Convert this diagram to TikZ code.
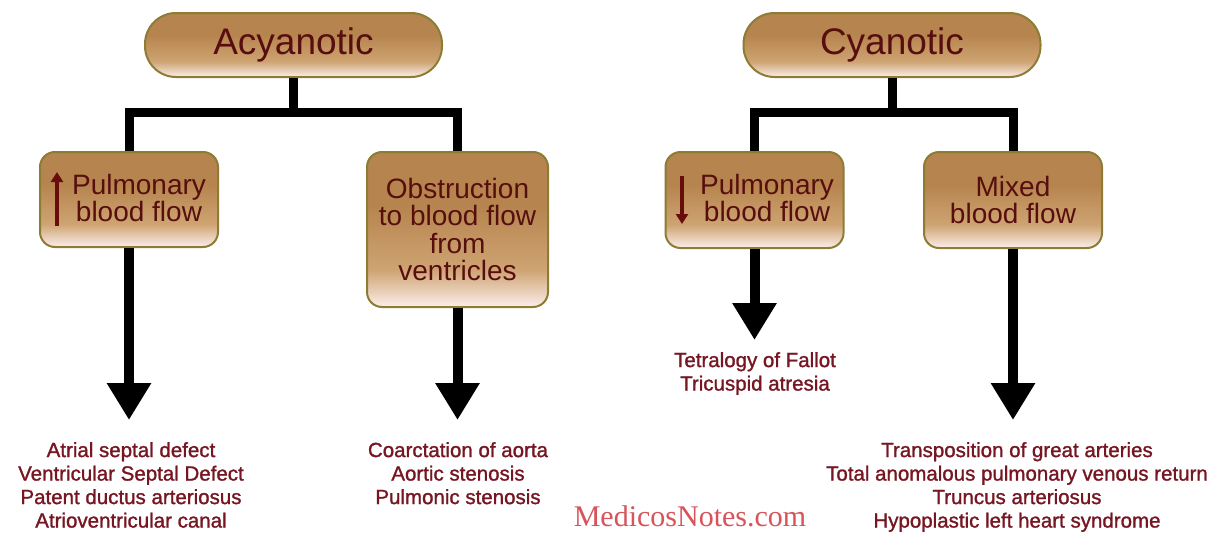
\documentclass[tikz,border=0pt]{standalone}
\usepackage{fontspec}
\setmainfont{Liberation Sans}
\newfontfamily\wmfont{Liberation Serif}
\newfontfamily\listfont{Liberation Sans}[FakeBold=1.2]
\usetikzlibrary{arrows.meta}
\definecolor{boxtop}{RGB}{182,132,78}
\definecolor{boxmid}{RGB}{206,164,114}
\definecolor{boxbot}{RGB}{252,238,236}
\definecolor{boxborder}{RGB}{140,124,52}
\definecolor{boxtext}{RGB}{88,14,14}
\definecolor{glyphred}{RGB}{105,12,12}
\definecolor{listred}{RGB}{118,22,34}
\definecolor{wmred}{RGB}{214,84,90}
\pgfdeclareverticalshading{boxshade}{100bp}{color(0bp)=(boxbot); color(25bp)=(boxbot); color(37bp)=(boxmid); color(58bp)=(boxtop); color(75bp)=(boxtop); color(100bp)=(boxtop)}
\tikzset{
  topbox/.style={draw=boxborder, line width=2pt, shading=boxshade, rounded corners=31pt,
    minimum width=297pt, minimum height=64pt, inner sep=0pt,
    font=\fontsize{37}{37}\selectfont, text=boxtext},
  subbox/.style={draw=boxborder, line width=2pt, shading=boxshade, rounded corners=15pt,
    minimum width=178pt, inner sep=0pt, align=center,
    font=\fontsize{28}{27.5}\selectfont, text=boxtext},
  boxtxt/.style={inner sep=0pt, align=center, font=\fontsize{28}{27.5}\selectfont, text=boxtext},
  conn/.style={line width=9pt, black},
  bigarrow/.style={line width=10pt, black, -{Triangle[width=42pt,length=37pt]}},
  glypharrow/.style={line width=4.5pt, glyphred, -{Triangle[width=12pt,length=10pt]}},
  listtxt/.style={inner sep=0pt, align=center, anchor=north, text=listred,
    font=\listfont\fontsize{20.5}{23.5}\selectfont},
  wmtxt/.style={inner sep=0pt, anchor=base, text=wmred, font=\wmfont\fontsize{30}{30}\selectfont}
}
\begin{document}
\begin{tikzpicture}[x=1pt,y=-1pt]
\fill[white] (0,0) rectangle (1216,533);
\useasboundingbox (0,0) rectangle (1216,533);

% top boxes
\node[topbox] (acy) at (293.5,45) {Acyanotic};
\node[topbox] (cya) at (892,45) {Cyanotic};

% second level boxes
\node[subbox, minimum height=95pt] (l1) at (129,199.5) {};
\node[subbox, minimum width=181pt, minimum height=155pt] (l2) at (457.5,229.5) {Obstruction\\to blood flow\\from\\ventricles};
\node[subbox, minimum height=96pt] (r1) at (754.5,200) {};
\node[subbox, minimum height=96pt] (r2) at (1013,200) {Mixed\\blood flow};
\node[boxtxt] (l1t) at (139,198) {Pulmonary\\blood flow};
\node[boxtxt] (r1t) at (767,198) {Pulmonary\\blood flow};

% glyph arrows inside boxes
\coordinate (ga1) at (57,226);
\coordinate (ga2) at (57,172);
\draw[glypharrow] (ga1) -- (ga2);
\coordinate (gb1) at (682,176);
\coordinate (gb2) at (682,224);
\draw[glypharrow] (gb1) -- (gb2);

% tree connectors
\coordinate (ja) at (293.5,112);
\coordinate (jc) at (892,112);
\draw[conn] (acy.south) -- (ja);
\draw[conn] (l1.north) |- (ja) -| (l2.north);
\draw[conn] (cya.south) -- (jc);
\draw[conn] (r1.north) |- (jc) -| (r2.north);

% big arrows
\coordinate (a1) at (129,420);
\coordinate (a2) at (457.5,420);
\coordinate (a3) at (754.5,340);
\coordinate (a4) at (1013,420);
\draw[bigarrow] (l1.south) -- (a1);
\draw[bigarrow] (l2.south) -- (a2);
\draw[bigarrow] (r1.south) -- (a3);
\draw[bigarrow] (r2.south) -- (a4);

% lists
\node[listtxt] (d1) at (131,442) {Atrial septal defect\\Ventricular Septal Defect\\Patent ductus arteriosus\\Atrioventricular canal};
\node[listtxt] (d2) at (458,442) {Coarctation of aorta\\Aortic stenosis\\Pulmonic stenosis};
\node[listtxt] (d3) at (755,352) {Tetralogy of Fallot\\Tricuspid atresia};
\node[listtxt] (d4) at (1017,442) {Transposition of great arteries\\Total anomalous pulmonary venous return\\Truncus arteriosus\\Hypoplastic left heart syndrome};

\node[wmtxt] (wm) at (690,526) {MedicosNotes.com};
\end{tikzpicture}
\end{document}
